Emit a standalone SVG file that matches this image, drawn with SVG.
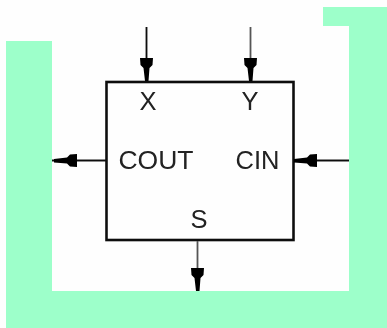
<svg xmlns="http://www.w3.org/2000/svg" width="387" height="328" viewBox="0 0 387 328">
<style>
.bg{fill:#9dffca}
.wire{fill:none;stroke:#111;stroke-width:1.8}
.wire2{fill:none;stroke:#555;stroke-width:1.8}
.box{fill:#fefefe;stroke:#111;stroke-width:2.6}
.head{fill:#000}
text{font-family:"Liberation Sans",Arial,sans-serif;font-size:25.5px;fill:#222;text-anchor:middle}
</style>
<defs>
<filter id="soft" x="-5%" y="-5%" width="110%" height="110%"><feGaussianBlur stdDeviation="0.5"/></filter>
<polygon id="ah" points="-6.5,-23 6.5,-23 6,-16 3,-13 2,0 -1.5,0 -3,-13 -6,-16"/>
</defs>
<rect width="387" height="328" fill="#fefefe"/>
<path id="frame" class="bg" d="M6 41H52V291H349V26H323V7H387V328H6Z"/>
<g filter="url(#soft)">
<g id="block">
<rect class="box" x="106.5" y="82" width="187" height="158"/>
</g>
<g id="connectors">
<line class="wire" x1="146.5" y1="27" x2="146.5" y2="60"/>
<use href="#ah" class="head" transform="translate(146.5 81)"/>
<line class="wire2" x1="250.5" y1="27" x2="250.5" y2="60"/>
<use href="#ah" class="head" transform="translate(250.5 81)"/>
<line class="wire" x1="106" y1="160.5" x2="52" y2="160.5"/>
<use href="#ah" class="head" transform="translate(54 160.5) rotate(90)"/>
<line class="wire" x1="349" y1="160.5" x2="312" y2="160.5"/>
<use href="#ah" class="head" transform="translate(294 160.5) rotate(90)"/>
<line class="wire2" x1="197.5" y1="241" x2="197.5" y2="270"/>
<use href="#ah" class="head" transform="translate(197.5 291)"/>
</g>
<g id="labels">
<text x="148" y="110">X</text>
<text x="250" y="110">Y</text>
<text x="156" y="169" font-size="26.5" style="font-size:26.5px">COUT</text>
<text x="257.5" y="169">CIN</text>
<text x="199" y="228">S</text>
</g>
</g>
</svg>
